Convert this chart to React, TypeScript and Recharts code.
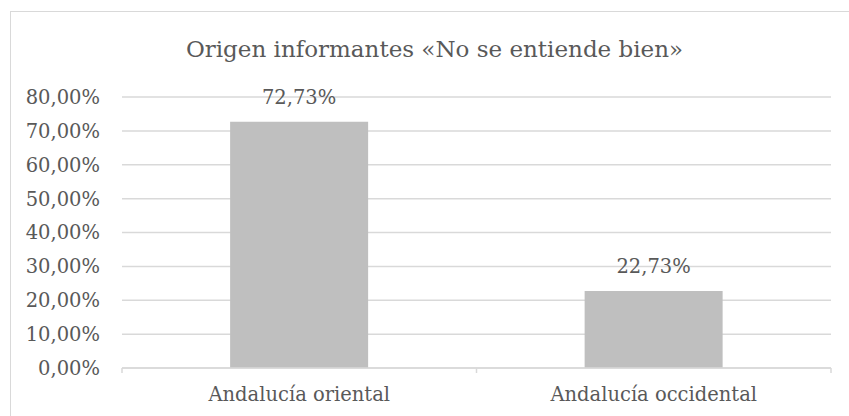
import { BarChart, Bar, XAxis, YAxis, CartesianGrid, LabelList } from 'recharts'

const categories = ['Andalucía oriental', 'Andalucía occidental']
const shares = [0.7273, 0.2273]
const yTicks = [0, 0.1, 0.2, 0.3, 0.4, 0.5, 0.6, 0.7, 0.8]
const title = 'Origen informantes «No se entiende bien»'

const data = categories.map((name, i) => ({ name, value: shares[i] }))

const W = 849
const H = 416
const M = { top: 97, right: 18, bottom: 0, left: 0 }
const Y_W = 122
const X_H = 48
const PLOT_W = W - M.left - M.right - Y_W
const BAND = PLOT_W / categories.length

const FONT = "'DejaVu Serif', 'Liberation Serif', serif"
const TEXT = '#595959'
const LINE = '#d9d9d9'
const FS = 19.5

const pct = (v: number) => (v * 100).toFixed(2).replace('.', ',') + '%'

function CategoryTick(props: any) {
  const { x, y, payload, index } = props
  const last = index === categories.length - 1
  return (
    <g>
      <line x1={x - BAND / 2} y1={y} x2={x - BAND / 2} y2={y + 5} stroke={LINE} strokeWidth={1.5} />
      {last && <line x1={x + BAND / 2} y1={y} x2={x + BAND / 2} y2={y + 5} stroke={LINE} strokeWidth={1.5} />}
      <text x={x} y={y + 33} textAnchor="middle" fill={TEXT} style={{ fontSize: FS, fontFamily: FONT }}>
        {payload.value}
      </text>
    </g>
  )
}

export default function App() {
  return (
    <div
      style={{
        position: 'absolute',
        left: 0,
        top: 0,
        width: W,
        height: H,
        overflow: 'hidden',
        background: '#fff',
        fontFamily: FONT,
      }}
    >
      <div
        style={{
          position: 'absolute',
          left: 10,
          top: 11,
          width: W,
          height: H,
          border: `1px solid ${LINE}`,
          boxSizing: 'border-box',
        }}
      />
      <BarChart width={W} height={H} data={data} margin={M} barCategoryGap="30.5%" style={{ fontFamily: FONT }}>
        <CartesianGrid vertical={false} stroke={LINE} strokeWidth={1.5} />
        <XAxis
          dataKey="name"
          height={X_H}
          axisLine={{ stroke: LINE, strokeWidth: 1.5 }}
          tickLine={false}
          tickSize={0}
          tickMargin={0}
          tick={<CategoryTick />}
          interval={0}
        />
        <YAxis
          width={Y_W}
          domain={[0, 0.8]}
          ticks={yTicks}
          interval={0}
          axisLine={false}
          tickLine={false}
          tickSize={0}
          tickMargin={22}
          tickFormatter={pct}
          tick={{ fill: TEXT, fontSize: FS, style: { fontFamily: FONT } }}
        />
        <Bar dataKey="value" fill="#bfbfbf" isAnimationActive={false}>
          <LabelList
            dataKey="value"
            position="top"
            offset={18}
            formatter={(v: any) => pct(Number(v))}
            fill={TEXT}
            fontSize={FS}
            style={{ fontFamily: FONT }}
          />
        </Bar>
      </BarChart>
      <svg width={W} height={H} style={{ position: 'absolute', left: 0, top: 0, pointerEvents: 'none' }}>
        <text x={434.5} y={57} textAnchor="middle" fill={TEXT} style={{ fontSize: 23, fontFamily: FONT }}>
          {title}
        </text>
      </svg>
    </div>
  )
}
